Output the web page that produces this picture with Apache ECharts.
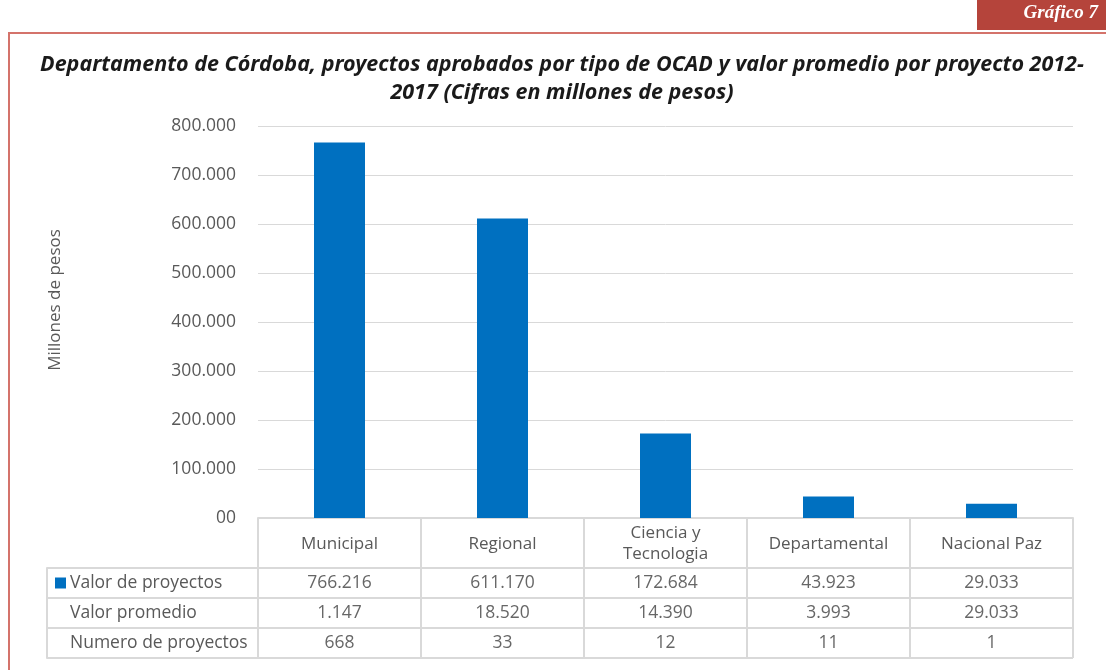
<!DOCTYPE html>
<html>
<head>
<meta charset="utf-8">
<script src="https://cdn.jsdelivr.net/npm/echarts@6/dist/echarts.min.js"></script>
<style>
  html, body { margin: 0; padding: 0; background: #fff; }
  #main { width: 1106px; height: 670px; }
</style>
</head>
<body>
<div id="main"></div>
<script>
// datos del gráfico
const categorias = ['Municipal', 'Regional', 'Ciencia y\nTecnologia', 'Departamental', 'Nacional Paz'];
const valorProyectos = [766216, 611170, 172684, 43923, 29033];
const valorPromedio = [1147, 18520, 14390, 3993, 29033];
const numeroProyectos = [668, 33, 12, 11, 1];
const filas = ['Valor de proyectos', 'Valor promedio', 'Numero de proyectos'];
const ejeY = { min: 0, max: 800000, interval: 100000 };

const azul = '#0070c0';
const gris = '#d9d9d9';
const textoGris = '#595959';
const fuente = '"Open Sans", "Liberation Sans", sans-serif';

// 766216 -> "766.216"
function miles(v) {
  return String(v).replace(/\B(?=(\d{3})+(?!\d))/g, '.');
}

// celdas de la tabla: [columna, fila, valor]
const celdas = [];
[valorProyectos, valorPromedio, numeroProyectos].forEach((serie, fila) => {
  serie.forEach((v, col) => celdas.push([col, fila, v]));
});

const chart = echarts.init(document.getElementById('main'));

chart.setOption({
  animation: false,
  title: {
    text: 'Departamento de Córdoba, proyectos aprobados por tipo de OCAD y valor promedio por proyecto 2012-\n2017 (Cifras en millones de pesos)',
    left: 557,
    top: 46,
    textAlign: 'center',
    textStyle: {
      fontFamily: '"Noto Sans", sans-serif',
      fontStyle: 'italic',
      fontWeight: 'bold',
      fontSize: 21.5,
      lineHeight: 28,
      color: '#1a1a1a',
    },
  },
  graphic: [
    {
      type: 'rect',
      shape: { x: 9, y: 33, width: 1120, height: 700 },
      style: { fill: 'none', stroke: '#d4736b', lineWidth: 2 },
      silent: true,
    },
    {
      type: 'rect',
      shape: { x: 977, y: 0, width: 129, height: 30 },
      style: { fill: '#b5443b' },
      silent: true,
    },
    {
      type: 'text',
      right: 8,
      top: 4,
      style: {
        text: 'Gráfico 7',
        fill: '#fff',
        font: 'italic bold 19px "Liberation Serif", "DejaVu Serif", serif',
      },
      silent: true,
    },
  ],
  grid: [
    { left: 258, right: 33, top: 126, bottom: 152 },
    { left: 258, right: 33, top: 568, height: 90 },
  ],
  xAxis: [
    {
      type: 'category',
      gridIndex: 0,
      data: categorias,
      axisLine: { show: true, lineStyle: { color: gris, width: 2 } },
      axisTick: { show: true, length: 50, lineStyle: { color: gris, width: 2 } },
      axisLabel: {
        interval: 0,
        margin: 26,
        verticalAlign: 'middle',
        color: textoGris,
        fontFamily: fuente,
        fontSize: 17,
        lineHeight: 21,
      },
    },
    {
      type: 'category',
      gridIndex: 1,
      data: categorias,
      axisLine: { show: false },
      axisTick: { show: false },
      axisLabel: { show: false },
      splitLine: { show: true, interval: 0, lineStyle: { color: gris, width: 2 } },
    },
  ],
  yAxis: [
    {
      type: 'value',
      gridIndex: 0,
      min: ejeY.min,
      max: ejeY.max,
      interval: ejeY.interval,
      name: 'Millones de pesos',
      nameLocation: 'middle',
      nameGap: 194,
      nameTextStyle: {
        color: textoGris,
        fontFamily: fuente,
        fontSize: 17,
        padding: [0, 0, 0, 44],
      },
      axisLine: { show: false },
      axisTick: { show: false },
      axisLabel: {
        margin: 22,
        color: textoGris,
        fontFamily: fuente,
        fontSize: 17.5,
        formatter: (v) => (v === 0 ? '00' : miles(v)),
      },
      splitLine: { lineStyle: { color: gris, width: 1 } },
    },
    {
      type: 'category',
      gridIndex: 1,
      inverse: true,
      data: filas,
      axisLine: { show: false },
      axisTick: { show: true, length: 211, lineStyle: { color: gris, width: 2 } },
      splitLine: { show: true, interval: 0, lineStyle: { color: gris, width: 2 } },
      axisLabel: {
        interval: 0,
        align: 'left',
        margin: 203,
        formatter: (v, i) => (i === 0 ? '{sq|}{t|' + v + '}' : '{p|' + v + '}'),
        rich: {
          sq: { width: 11, height: 11, backgroundColor: azul },
          t: { color: textoGris, fontFamily: fuente, fontSize: 17.5, padding: [0, 0, 0, 4] },
          p: { color: textoGris, fontFamily: fuente, fontSize: 17.5, padding: [0, 0, 0, 15] },
        },
      },
    },
    {
      // borde izquierdo de la columna de etiquetas
      type: 'category',
      gridIndex: 1,
      inverse: true,
      data: filas,
      position: 'left',
      offset: 211,
      axisLine: { show: true, lineStyle: { color: gris, width: 2 } },
      axisTick: { show: false },
      axisLabel: { show: false },
    },
  ],
  series: [
    {
      name: 'Valor de proyectos',
      type: 'bar',
      xAxisIndex: 0,
      yAxisIndex: 0,
      data: valorProyectos,
      barWidth: 51,
      itemStyle: { color: azul },
    },
    {
      type: 'scatter',
      xAxisIndex: 1,
      yAxisIndex: 1,
      data: celdas,
      symbolSize: 0,
      label: {
        show: true,
        position: 'inside',
        color: '#404040',
        fontFamily: fuente,
        fontSize: 17.5,
        formatter: (p) => miles(p.value[2]),
      },
    },
  ],
});
</script>
</body>
</html>
